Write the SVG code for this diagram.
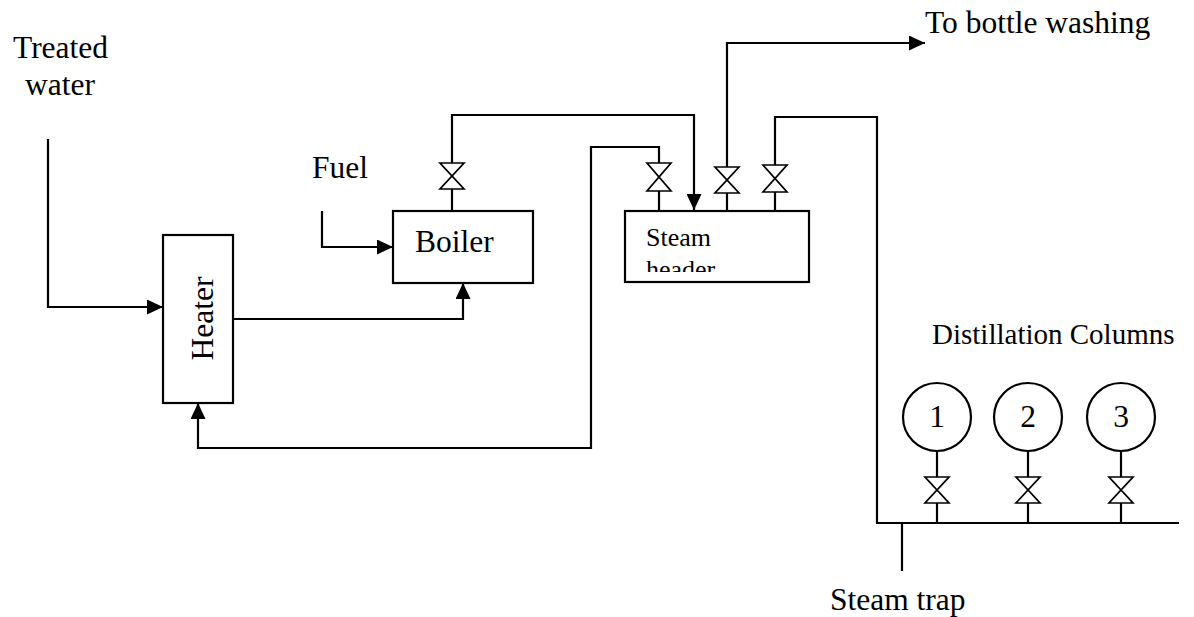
<svg xmlns="http://www.w3.org/2000/svg" width="1194" height="617" viewBox="0 0 1194 617">
<style>
  .ln{fill:none;stroke:#000;stroke-width:2.2}
  .box{fill:#fff;stroke:#000;stroke-width:2.2}
  .valve{fill:#fff;stroke:#000;stroke-width:1.7;stroke-linejoin:miter}
  text{font-family:"Liberation Serif","Times New Roman",serif;fill:#000;font-size:31.5px}
  .sm{font-size:26px}
  .md{font-size:29px}
</style>
<defs>
  <marker id="arr" viewBox="0 0 16 15" refX="16" refY="7.5" markerWidth="16" markerHeight="15" markerUnits="userSpaceOnUse" orient="auto">
    <path d="M0,0 L16,7.5 L0,15 Z" fill="#000"/>
  </marker>
  <clipPath id="hdrclip"><rect x="626" y="213" width="182" height="59"/></clipPath>
</defs>
<rect width="1194" height="617" fill="#fff"/>

<g id="labels">
  <text x="13" y="58">Treated</text>
  <text x="25" y="95">water</text>
  <text x="312" y="178">Fuel</text>
  <text x="925" y="33">To bottle washing</text>
  <text x="932" y="344" class="md">Distillation Columns</text>
  <text x="830" y="610">Steam trap</text>
</g>

<g id="connectors">
  <path class="ln" d="M48,139 V307 H163" marker-end="url(#arr)"/>
  <path class="ln" d="M322,211 V247 H393" marker-end="url(#arr)"/>
  <path class="ln" d="M233,319 H463 V283" marker-end="url(#arr)"/>
  <path class="ln" d="M452,211 V189 M452,163 V115 H694 V210" marker-end="url(#arr)"/>
  <path class="ln" d="M659,211 V191 M659,163 V147 H591 V448 H198 V403" marker-end="url(#arr)"/>
  <path class="ln" d="M727,211 V193 M727,167 V43 H925" marker-end="url(#arr)"/>
  <path class="ln" d="M775,211 V192 M775,165 V117 H877 V523 H1179"/>
  <path class="ln" d="M902,523 V571"/>
  <path class="ln" d="M937,451 V477 M937,503 V523"/>
  <path class="ln" d="M1028,451 V477 M1028,503 V523"/>
  <path class="ln" d="M1121,451 V477 M1121,503 V523"/>
</g>

<g id="valves">
  <path class="valve" d="M440,163 H464 L440,189 H464 Z"/>
  <path class="valve" d="M647,163 H671 L647,191 H671 Z"/>
  <path class="valve" d="M715,167 H739 L715,193 H739 Z"/>
  <path class="valve" d="M763,165 H787 L763,192 H787 Z"/>
  <path class="valve" d="M925,477 H949 L925,503 H949 Z"/>
  <path class="valve" d="M1016,477 H1040 L1016,503 H1040 Z"/>
  <path class="valve" d="M1109,477 H1133 L1109,503 H1133 Z"/>
</g>

<g id="heater">
  <rect class="box" x="163" y="235" width="70" height="168"/>
  <text transform="translate(213,318.5) rotate(-90)" text-anchor="middle">Heater</text>
</g>

<g id="boiler">
  <rect class="box" x="393" y="211" width="140" height="72"/>
  <text x="415" y="252">Boiler</text>
</g>

<g id="steam-header">
  <rect class="box" x="625" y="211" width="184" height="71"/>
  <g clip-path="url(#hdrclip)">
    <text x="646" y="246" class="sm">Steam</text>
    <text x="646" y="278" class="sm">header</text>
  </g>
</g>

<g id="column-1">
  <circle class="box" cx="937" cy="417" r="34"/>
  <text x="937" y="427" text-anchor="middle">1</text>
</g>
<g id="column-2">
  <circle class="box" cx="1028" cy="417" r="34"/>
  <text x="1028" y="427" text-anchor="middle">2</text>
</g>
<g id="column-3">
  <circle class="box" cx="1121" cy="417" r="34"/>
  <text x="1121" y="427" text-anchor="middle">3</text>
</g>
</svg>
